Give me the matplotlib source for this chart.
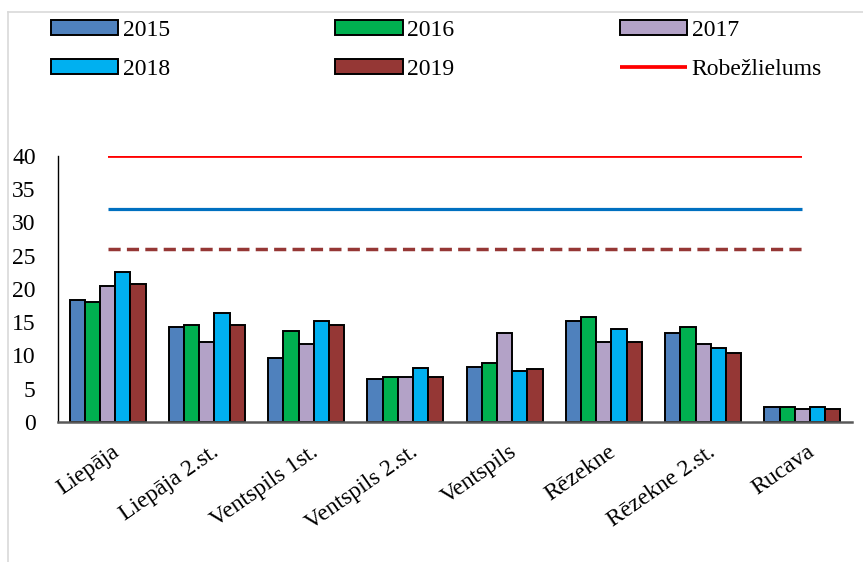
import numpy as np
import matplotlib
matplotlib.use("Agg")
import matplotlib.pyplot as plt
from matplotlib.lines import Line2D
import matplotlib.transforms as mtransforms

plt.rcParams['font.family'] = ['Liberation Serif', 'DejaVu Serif']

# Dati
vietas = ['Liepāja', 'Liepāja 2.st.', 'Ventspils 1st.', 'Ventspils 2.st.',
          'Ventspils', 'Rēzekne', 'Rēzekne 2.st.', 'Rucava']
gadi = ['2015', '2016', '2017', '2018', '2019']
v2015 = [18.4, 14.3, 9.6, 6.4, 8.2, 15.2, 13.4, 2.3]
v2016 = [18.0, 14.6, 13.7, 6.7, 8.8, 15.8, 14.3, 2.3]
v2017 = [20.5, 12.0, 11.7, 6.7, 13.4, 12.0, 11.7, 2.0]
v2018 = [22.5, 16.4, 15.2, 8.1, 7.6, 14.0, 11.1, 2.3]
v2019 = [20.8, 14.6, 14.6, 6.7, 7.9, 12.0, 10.3, 2.0]
robezlielums = 40
limenis_zils = 32
limenis_sarkans = 26

krasas = ['#4F81BD', '#00B050', '#B3A2C7', '#00B0F0', '#953735']

fig = plt.figure(figsize=(8.63, 5.62), dpi=100)
ax = fig.add_axes([58 / 863, 1 - 422 / 562, (852 - 58) / 863, (422 - 155.7) / 562])

x = np.arange(len(vietas))
platums = 0.153
vertibas = [v2015, v2016, v2017, v2018, v2019]
stabi = []
for i, (gads, v) in enumerate(zip(gadi, vertibas)):
    b = ax.bar(x + (i - 2) * platums, v, platums, color=krasas[i],
               edgecolor='black', linewidth=1.4, label=gads, zorder=2)
    stabi.append(b)

sarkana, = ax.plot([x[0], x[-1]], [robezlielums] * 2, color='#FF0000', lw=2.7,
                   label='Robežlielums', solid_capstyle='butt')
ax.plot([x[0], x[-1]], [limenis_zils] * 2, color='#0070C0', lw=2.3,
        solid_capstyle='butt')
ax.plot([x[0], x[-1]], [limenis_sarkans] * 2, color='#953735', lw=2.5,
        dashes=(3.5, 1.8))

ax.set_xlim(-0.5, len(vietas) - 0.5)
ax.set_ylim(0, 40)
ax.set_yticks(range(0, 41, 5))
ax.tick_params(axis='y', length=0, pad=16, labelsize=17)
ax.tick_params(axis='x', length=0, pad=14, labelsize=17)
ax.set_xticks(x)
ax.set_xticklabels(vietas, rotation=35, ha='right', rotation_mode='anchor')
nobide = mtransforms.ScaledTranslation(4 / 100, 0, fig.dpi_scale_trans)
for lbl in ax.get_xticklabels():
    lbl.set_transform(lbl.get_transform() + nobide)

for s in ['top', 'right']:
    ax.spines[s].set_visible(False)
ax.spines['left'].set_color('black')
ax.spines['left'].set_linewidth(1.0)
ax.spines['bottom'].set_color('#595959')
ax.spines['bottom'].set_linewidth(1.8)

# Leģenda (kolonnas aizpildās pa vertikāli)
h = stabi + [sarkana]
kartiba = [0, 3, 1, 4, 2, 5]
etiketes = gadi + ['Robežlielums']
fig.legend([h[k] for k in kartiba], [etiketes[k] for k in kartiba],
           ncol=3, loc='upper left', bbox_to_anchor=(51 / 863, 1 - 20 / 562),
           frameon=False, fontsize=17, handlelength=2.85, handleheight=0.6,
           handletextpad=0.2, columnspacing=7.0, labelspacing=0.75,
           borderpad=0, borderaxespad=0)

# Rāmis
fig.add_artist(Line2D([8 / 863, 1], [1 - 12 / 562] * 2, color='#D9D9D9', lw=1.2,
                      transform=fig.transFigure))
fig.add_artist(Line2D([8 / 863] * 2, [0, 1 - 12 / 562], color='#D9D9D9', lw=1.2,
                      transform=fig.transFigure))

fig.savefig('out.png', dpi=100)
